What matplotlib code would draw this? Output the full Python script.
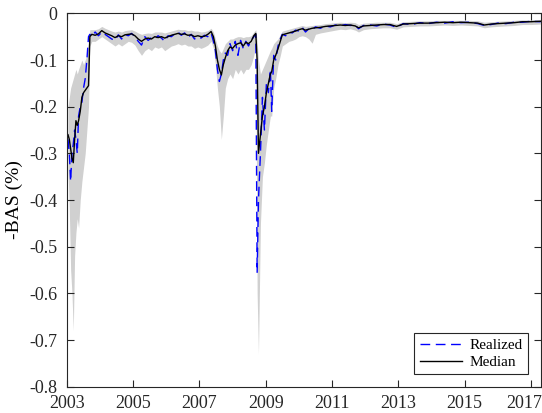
import numpy as np
import matplotlib.pyplot as plt
from matplotlib.transforms import offset_copy

plt.rcParams['font.family'] = ['Liberation Serif', 'DejaVu Serif']
plt.rcParams['font.size'] = 12

# time axis (fractional years)
years = [2003.03, 2003.07, 2003.11, 2003.15, 2003.19, 2003.23, 2003.27, 2003.31, 2003.35, 2003.40,
         2003.45, 2003.50, 2003.55, 2003.60, 2003.65, 2003.69, 2003.75, 2003.85, 2003.95, 2004.05,
         2004.15, 2004.25, 2004.35, 2004.45, 2004.55, 2004.65, 2004.75, 2004.85, 2004.95, 2005.05,
         2005.15, 2005.25, 2005.35, 2005.45, 2005.55, 2005.65, 2005.75, 2005.85, 2005.95, 2006.05,
         2006.15, 2006.25, 2006.35, 2006.45, 2006.55, 2006.65, 2006.75, 2006.85, 2006.95, 2007.05,
         2007.15, 2007.25, 2007.35, 2007.42, 2007.48, 2007.54, 2007.60, 2007.66, 2007.72, 2007.78,
         2007.85, 2007.92, 2008.00, 2008.08, 2008.16, 2008.24, 2008.32, 2008.40, 2008.48, 2008.56,
         2008.64, 2008.70, 2008.74, 2008.78, 2008.84, 2008.90, 2008.96, 2009.02, 2009.08, 2009.14,
         2009.18, 2009.24, 2009.30, 2009.37, 2009.44, 2009.50, 2009.60, 2009.70, 2009.80, 2009.90,
         2010.00, 2010.10, 2010.20, 2010.30, 2010.40, 2010.50, 2010.65, 2010.80, 2010.95, 2011.10,
         2011.25, 2011.40, 2011.55, 2011.70, 2011.80, 2011.95, 2012.15, 2012.35, 2012.55, 2012.75,
         2012.95, 2013.15, 2013.40, 2013.65, 2013.90, 2014.15, 2014.40, 2014.65, 2014.90, 2015.15,
         2015.40, 2015.60, 2015.80, 2016.00, 2016.25, 2016.50, 2016.75, 2017.00, 2017.30]

# median of simulated -BAS
median = [-0.26, -0.27, -0.29, -0.31, -0.32, -0.27, -0.23, -0.24, -0.23, -0.21,
          -0.18, -0.17, -0.165, -0.16, -0.155, -0.05, -0.045, -0.047, -0.044, -0.037,
          -0.042, -0.045, -0.048, -0.052, -0.048, -0.05, -0.046, -0.045, -0.044, -0.048,
          -0.055, -0.06, -0.055, -0.053, -0.055, -0.05, -0.052, -0.05, -0.053, -0.05,
          -0.047, -0.045, -0.043, -0.045, -0.044, -0.047, -0.046, -0.05, -0.048, -0.05,
          -0.049, -0.045, -0.039, -0.05, -0.07, -0.10, -0.12, -0.132, -0.11, -0.095,
          -0.08, -0.072, -0.075, -0.068, -0.065, -0.063, -0.07, -0.062, -0.065, -0.06,
          -0.048, -0.043, -0.10, -0.30, -0.26, -0.22, -0.20, -0.17, -0.15, -0.13,
          -0.125, -0.10, -0.09, -0.076, -0.06, -0.046, -0.044, -0.042, -0.04, -0.038,
          -0.035, -0.033, -0.036, -0.034, -0.032, -0.031, -0.03, -0.028, -0.027, -0.026,
          -0.025, -0.026, -0.025, -0.027, -0.031, -0.027, -0.026, -0.025, -0.024, -0.024,
          -0.028, -0.023, -0.022, -0.021, -0.021, -0.02, -0.019, -0.02, -0.019, -0.02,
          -0.021, -0.025, -0.023, -0.022, -0.021, -0.02, -0.018, -0.018, -0.017]

# realized -BAS
realized = [-0.27, -0.30, -0.36, -0.30, -0.28, -0.25, -0.27, -0.30, -0.22, -0.20,
            -0.19, -0.16, -0.14, -0.10, -0.05, -0.045, -0.05, -0.04, -0.048, -0.04,
            -0.045, -0.05, -0.055, -0.058, -0.046, -0.055, -0.045, -0.048, -0.043, -0.05,
            -0.06, -0.068, -0.05, -0.058, -0.052, -0.055, -0.048, -0.053, -0.06, -0.048,
            -0.05, -0.044, -0.04, -0.047, -0.042, -0.052, -0.045, -0.055, -0.05, -0.053,
            -0.047, -0.05, -0.042, -0.06, -0.08, -0.12, -0.146, -0.13, -0.10, -0.085,
            -0.09, -0.065, -0.08, -0.06, -0.09, -0.058, -0.075, -0.06, -0.07, -0.058,
            -0.05, -0.045, -0.556, -0.40, -0.30, -0.18, -0.25, -0.15, -0.17, -0.12,
            -0.21, -0.09, -0.10, -0.07, -0.055, -0.045, -0.048, -0.04, -0.042, -0.036,
            -0.038, -0.03, -0.04, -0.033, -0.035, -0.029, -0.032, -0.027, -0.029, -0.025,
            -0.027, -0.024, -0.026, -0.025, -0.033, -0.026, -0.025, -0.027, -0.023, -0.025,
            -0.03, -0.022, -0.024, -0.02, -0.022, -0.019, -0.021, -0.018, -0.02, -0.019,
            -0.022, -0.026, -0.024, -0.021, -0.022, -0.019, -0.019, -0.017, -0.018]

# lower / upper bounds of the simulated range
lower = [-0.33, -0.42, -0.55, -0.60, -0.68, -0.52, -0.47, -0.44, -0.46, -0.40,
         -0.36, -0.33, -0.30, -0.25, -0.20, -0.07, -0.06, -0.06, -0.055, -0.05,
         -0.055, -0.06, -0.065, -0.07, -0.065, -0.07, -0.065, -0.06, -0.062, -0.068,
         -0.08, -0.09, -0.08, -0.075, -0.08, -0.072, -0.075, -0.072, -0.08, -0.075,
         -0.07, -0.068, -0.065, -0.068, -0.066, -0.07, -0.07, -0.075, -0.072, -0.075,
         -0.072, -0.068, -0.06, -0.075, -0.11, -0.16, -0.20, -0.27, -0.22, -0.16,
         -0.14, -0.13, -0.14, -0.12, -0.13, -0.12, -0.13, -0.12, -0.12, -0.11,
         -0.09, -0.07, -0.60, -0.73, -0.45, -0.35, -0.32, -0.28, -0.25, -0.22,
         -0.22, -0.16, -0.14, -0.11, -0.09, -0.07, -0.065, -0.06, -0.058, -0.055,
         -0.05, -0.048, -0.05, -0.055, -0.064, -0.045, -0.042, -0.04, -0.038, -0.036,
         -0.034, -0.035, -0.033, -0.036, -0.04, -0.035, -0.033, -0.032, -0.031, -0.031,
         -0.034, -0.029, -0.028, -0.027, -0.027, -0.026, -0.025, -0.026, -0.025, -0.026,
         -0.027, -0.031, -0.029, -0.028, -0.027, -0.026, -0.024, -0.024, -0.023]

upper = [-0.20, -0.18, -0.16, -0.15, -0.14, -0.13, -0.12, -0.13, -0.12, -0.11,
         -0.10, -0.11, -0.10, -0.09, -0.06, -0.035, -0.035, -0.035, -0.033, -0.028,
         -0.032, -0.035, -0.038, -0.04, -0.038, -0.04, -0.037, -0.036, -0.035, -0.038,
         -0.042, -0.045, -0.043, -0.042, -0.043, -0.04, -0.04, -0.04, -0.042, -0.04,
         -0.038, -0.036, -0.034, -0.035, -0.035, -0.037, -0.036, -0.038, -0.038, -0.04,
         -0.039, -0.037, -0.032, -0.04, -0.055, -0.07, -0.08, -0.085, -0.075, -0.065,
         -0.06, -0.055, -0.055, -0.052, -0.05, -0.05, -0.052, -0.05, -0.05, -0.048,
         -0.04, -0.035, -0.06, -0.10, -0.13, -0.12, -0.11, -0.10, -0.09, -0.08,
         -0.075, -0.065, -0.06, -0.055, -0.045, -0.038, -0.036, -0.034, -0.032, -0.030,
         -0.028, -0.026, -0.028, -0.027, -0.026, -0.025, -0.024, -0.022, -0.021, -0.020,
         -0.019, -0.020, -0.019, -0.020, -0.024, -0.021, -0.020, -0.019, -0.019, -0.019,
         -0.022, -0.018, -0.017, -0.016, -0.016, -0.015, -0.015, -0.015, -0.015, -0.015,
         -0.016, -0.019, -0.018, -0.017, -0.016, -0.015, -0.014, -0.014, -0.013]

xticks = [2003, 2005, 2007, 2009, 2011, 2013, 2015, 2017]
yticks = [0, -0.1, -0.2, -0.3, -0.4, -0.5, -0.6, -0.7, -0.8]
ytick_labels = ['0', '-0.1', '-0.2', '-0.3', '-0.4', '-0.5', '-0.6', '-0.7', '-0.8']

fig = plt.figure(figsize=(5.42, 4.13), dpi=100)
ax = fig.add_axes([0.1236, 0.0637, 0.874, 0.904])

ax.fill_between(years, lower, upper, color='#d0d0d0', linewidth=0)
ax.plot(years, realized, color='blue', linestyle=(0, (7, 4)), linewidth=1.0, label='Realized')
ax.plot(years, median, color='black', linewidth=1.0, label='Median')

ax.set_xlim(2003, 2017.3)
ax.set_ylim(-0.8, 0)
ax.set_xticks(xticks)
ax.set_yticks(yticks)
ax.set_yticklabels(ytick_labels)
ax.set_ylabel('-BAS (%)', fontsize=14, labelpad=4)

for s in ax.spines.values():
    s.set_color('#262626')
    s.set_linewidth(0.8)
ax.tick_params(direction='in', top=True, right=True, length=5, width=0.8,
               color='#262626', labelcolor='#262626', labelsize=13)
ax.tick_params(axis='x', pad=6)
ax.tick_params(axis='y', pad=7)

# keep the last year label inside the figure
last = ax.xaxis.get_major_ticks()[-1].label1
last.set_transform(offset_copy(last.get_transform(), fig=fig, x=-7, y=0, units='dots'))

leg = ax.legend(loc='lower right', frameon=True, fancybox=False, framealpha=1,
                edgecolor='#262626', handlelength=2.8, borderaxespad=0.8,
                fontsize=11, borderpad=0.35, labelspacing=0.2, handletextpad=0.5)
leg.get_frame().set_linewidth(0.8)

fig.savefig('out.png', dpi=100)
